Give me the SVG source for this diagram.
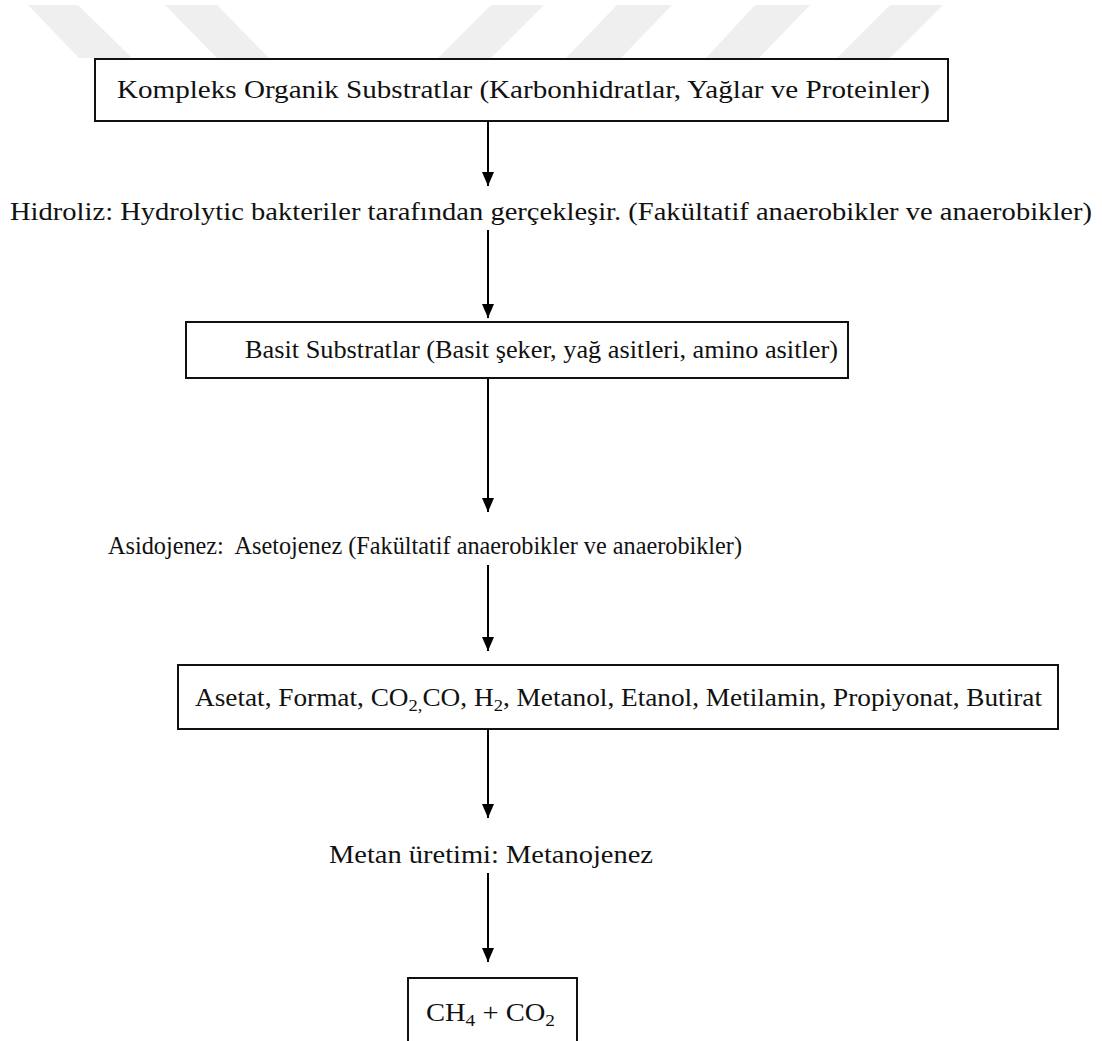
<svg xmlns="http://www.w3.org/2000/svg" width="1102" height="1041" viewBox="0 0 1102 1041">
<defs>
<style>
.t{font-family:"Liberation Serif","Times New Roman",serif;font-size:25px;fill:#111;}
.box{fill:#fff;stroke:#111;stroke-width:2;}
.wm{fill:#efefef;}
.conn line{stroke:#000;stroke-width:2;}
</style>
<marker id="ah" viewBox="0 0 14 12" refX="14" refY="6" markerWidth="14" markerHeight="12" markerUnits="userSpaceOnUse" orient="auto">
<path d="M0,0 L14,6 L0,12 Z" fill="#000"/>
</marker>
</defs>
<rect width="1102" height="1041" fill="#fff"/>
<g id="watermark">
<polygon class="wm" points="28,5 78,5 132,58 79,58"/>
<polygon class="wm" points="165,5 217,5 269,58 217,58"/>
<polygon class="wm" points="491,5 544,5 491,58 438,58"/>
<polygon class="wm" points="617,5 672,5 621,58 566,58"/>
<polygon class="wm" points="755,5 810,5 759,58 706,58"/>
<polygon class="wm" points="890,5 943,5 890,58 837,58"/>
</g>
<g id="connectors" class="conn">
<line x1="488" y1="121" x2="488" y2="186" marker-end="url(#ah)"/>
<line x1="488" y1="230" x2="488" y2="318" marker-end="url(#ah)"/>
<line x1="488" y1="378" x2="488" y2="512" marker-end="url(#ah)"/>
<line x1="488" y1="565" x2="488" y2="651" marker-end="url(#ah)"/>
<line x1="488" y1="729" x2="488" y2="818" marker-end="url(#ah)"/>
<line x1="488" y1="873" x2="488" y2="962" marker-end="url(#ah)"/>
</g>
<g id="n1">
<rect class="box" x="95" y="59" width="853" height="62"/>
<text class="t" x="117" y="98" textLength="813" lengthAdjust="spacingAndGlyphs">Kompleks Organik Substratlar (Karbonhidratlar, Yağlar ve Proteinler)</text>
</g>
<g id="l1">
<text class="t" x="10" y="220" textLength="1082" lengthAdjust="spacingAndGlyphs">Hidroliz: Hydrolytic bakteriler tarafından gerçekleşir. (Fakültatif anaerobikler ve anaerobikler)</text>
</g>
<g id="n2">
<rect class="box" x="186" y="322" width="662" height="56"/>
<text class="t" x="245" y="358" textLength="593" lengthAdjust="spacingAndGlyphs">Basit Substratlar (Basit şeker, yağ asitleri, amino asitler)</text>
</g>
<g id="l2">
<text class="t" x="108" y="554" textLength="634" lengthAdjust="spacingAndGlyphs">Asidojenez:&#160; Asetojenez (Fakültatif anaerobikler ve anaerobikler)</text>
</g>
<g id="n3">
<rect class="box" x="178" y="665" width="880" height="64"/>
<text class="t" x="195" y="706" textLength="847" lengthAdjust="spacingAndGlyphs">Asetat, Format, CO<tspan font-size="17" dy="5">2,</tspan><tspan dy="-5">CO, H</tspan><tspan font-size="17" dy="5">2</tspan><tspan dy="-5">, Metanol, Etanol, Metilamin, Propiyonat, Butirat</tspan></text>
</g>
<g id="l3">
<text class="t" x="329" y="863" textLength="324" lengthAdjust="spacingAndGlyphs">Metan üretimi: Metanojenez</text>
</g>
<g id="n4">
<rect class="box" x="408" y="978" width="169" height="75"/>
<text class="t" x="426" y="1021" textLength="129" lengthAdjust="spacingAndGlyphs">CH<tspan font-size="17" dy="5">4</tspan><tspan dy="-5"> + CO</tspan><tspan font-size="17" dy="5">2</tspan></text>
</g>
</svg>
